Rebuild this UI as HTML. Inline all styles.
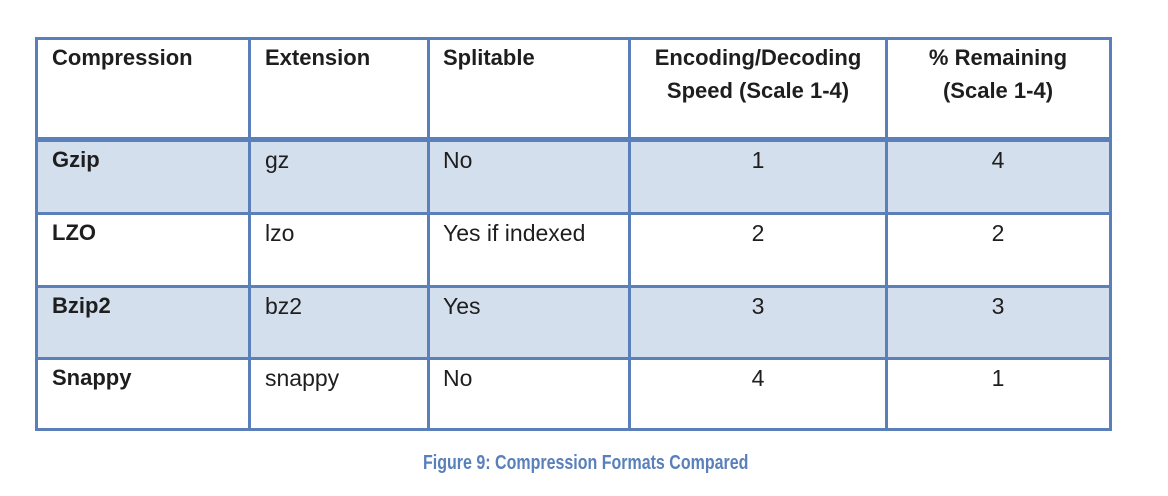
<!DOCTYPE html>
<html>
<head>
<meta charset="utf-8">
<style>
  html, body { margin:0; padding:0; background:#ffffff; }
  body { width:1168px; height:496px; position:relative; overflow:hidden;
         font-family:"Liberation Sans", Arial, sans-serif; color:#1e1e1e; }
  .fill { position:absolute; background:#d4dfed; }
  .h, .v { position:absolute; background:#5b80b9; }
  .t { position:absolute; white-space:nowrap; line-height:1; }
  .b { font-weight:bold; font-size:22px; }
  .r { font-size:23px; }
  .c { text-align:center; width:400px; }
  .cap { position:absolute; left:423px; top:453px; font-size:20px; line-height:20px;
         font-weight:bold; color:#5a80bb; white-space:nowrap;
         transform:scaleX(0.80); transform-origin:0 0; }
</style>
</head>
<body>
  <!-- row fills -->
  <div class="fill" style="left:37px; top:142px; width:1073px; height:71px;"></div>
  <div class="fill" style="left:37px; top:287px; width:1073px; height:71px;"></div>

  <!-- horizontal lines -->
  <div class="h" style="left:35px; top:37px; width:1077px; height:3px;"></div>
  <div class="h" style="left:35px; top:137px; width:1077px; height:5px;"></div>
  <div class="h" style="left:35px; top:212px; width:1077px; height:3px;"></div>
  <div class="h" style="left:35px; top:285px; width:1077px; height:3px;"></div>
  <div class="h" style="left:35px; top:357px; width:1077px; height:3px;"></div>
  <div class="h" style="left:35px; top:428px; width:1077px; height:3px;"></div>

  <!-- vertical lines -->
  <div class="v" style="left:35px; top:37px; width:3px; height:394px;"></div>
  <div class="v" style="left:248px; top:37px; width:3px; height:394px;"></div>
  <div class="v" style="left:427px; top:37px; width:3px; height:394px;"></div>
  <div class="v" style="left:628px; top:37px; width:3px; height:394px;"></div>
  <div class="v" style="left:885px; top:37px; width:3px; height:394px;"></div>
  <div class="v" style="left:1109px; top:37px; width:3px; height:394px;"></div>

  <!-- header -->
  <div class="t b" style="left:52px; top:47.4px;">Compression</div>
  <div class="t b" style="left:265px; top:47.4px;">Extension</div>
  <div class="t b" style="left:443px; top:47.4px;">Splitable</div>
  <div class="t b c" style="left:558px; top:47.4px;">Encoding/Decoding</div>
  <div class="t b c" style="left:558px; top:80.4px;">Speed (Scale 1-4)</div>
  <div class="t b c" style="left:798px; top:47.4px;">% Remaining</div>
  <div class="t b c" style="left:798px; top:80.4px;">(Scale 1-4)</div>

  <!-- row 1 -->
  <div class="t b" style="left:52px; top:149.4px;">Gzip</div>
  <div class="t r" style="left:265px; top:148.5px;">gz</div>
  <div class="t r" style="left:443px; top:148.5px;">No</div>
  <div class="t r c" style="left:558px; top:148.5px;">1</div>
  <div class="t r c" style="left:798px; top:148.5px;">4</div>

  <!-- row 2 -->
  <div class="t b" style="left:52px; top:222.4px;">LZO</div>
  <div class="t r" style="left:265px; top:221.5px;">lzo</div>
  <div class="t r" style="left:443px; top:221.5px;">Yes if indexed</div>
  <div class="t r c" style="left:558px; top:221.5px;">2</div>
  <div class="t r c" style="left:798px; top:221.5px;">2</div>

  <!-- row 3 -->
  <div class="t b" style="left:52px; top:295.4px;">Bzip2</div>
  <div class="t r" style="left:265px; top:294.5px;">bz2</div>
  <div class="t r" style="left:443px; top:294.5px;">Yes</div>
  <div class="t r c" style="left:558px; top:294.5px;">3</div>
  <div class="t r c" style="left:798px; top:294.5px;">3</div>

  <!-- row 4 -->
  <div class="t b" style="left:52px; top:367.4px;">Snappy</div>
  <div class="t r" style="left:265px; top:366.5px;">snappy</div>
  <div class="t r" style="left:443px; top:366.5px;">No</div>
  <div class="t r c" style="left:558px; top:366.5px;">4</div>
  <div class="t r c" style="left:798px; top:366.5px;">1</div>

  <!-- caption -->
  <div class="cap">Figure 9: Compression Formats Compared</div>
</body>
</html>
